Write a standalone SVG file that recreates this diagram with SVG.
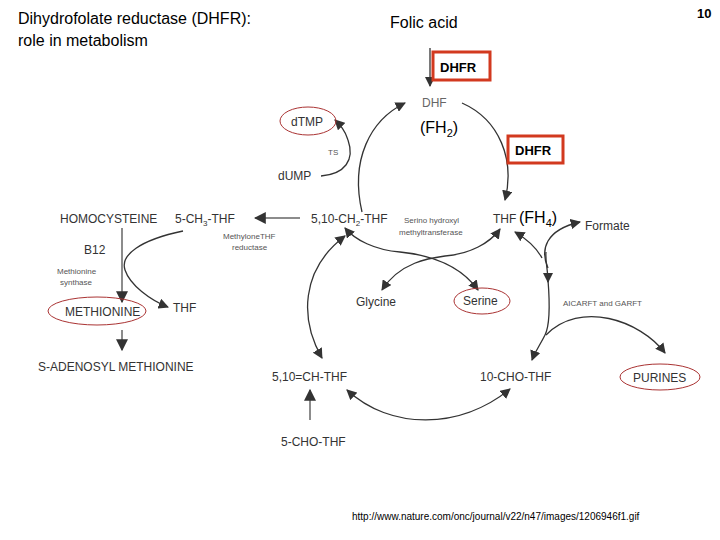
<svg xmlns="http://www.w3.org/2000/svg" width="720" height="540" viewBox="0 0 720 540">
<style>
text{font-family:"Liberation Sans",Arial,sans-serif;fill:#333}
.t{font-size:12px}
.s{font-size:8px;fill:#555}
.b{font-size:16px;fill:#000}
.c{fill:none;stroke:#333;stroke-width:1.3}
.g{fill:none;stroke:#666;stroke-width:1.5}
.ov{fill:none;stroke:#a33;stroke-width:1}
.box{fill:#fff;stroke:#d2391f;stroke-width:3}
</style>
<defs><marker id="a" viewBox="0 0 10 10" refX="9" refY="5" markerWidth="8" markerHeight="8" orient="auto-start-reverse"><path d="M0,0L10,5L0,10z" fill="#333"/></marker></defs>
<rect width="720" height="540" fill="#fff"/>
<text x="18" y="24" class="b">Dihydrofolate reductase (DHFR):</text>
<text x="18" y="46" class="b">role in metabolism</text>
<text x="390" y="28" class="b">Folic acid</text>
<text x="697" y="18" style="font-size:13px;font-weight:bold;fill:#000">10</text>
<g id="connectors">
<path class="c" d="M430,48V86" marker-end="url(#a)"/>
<path class="c" d="M362,212C350,160 370,120 405,103" marker-end="url(#a)"/>
<path class="c" d="M462,103C500,120 515,160 505,200" marker-end="url(#a)"/>
<path class="c" d="M321,176C345,174 355,160 348,140C345,130 340,125 335,120" marker-end="url(#a)"/>
<path class="g" d="M300,218H255" marker-end="url(#a)"/>
<path class="g" d="M122,228V302" marker-end="url(#a)"/>
<path class="g" d="M122,330V350" marker-end="url(#a)"/>
<path class="c" d="M183,231C140,240 120,255 125,270C130,285 150,300 168,307" marker-end="url(#a)"/>
<path class="c" d="M478,290C460,265 430,255 400,252C375,250 355,240 345,228" marker-start="url(#a)" marker-end="url(#a)"/>
<path class="c" d="M382,290C400,262 430,258 445,256C470,254 490,243 500,229" marker-start="url(#a)" marker-end="url(#a)"/>
<path class="c" d="M345,236C300,270 300,320 322,358" marker-start="url(#a)" marker-end="url(#a)"/>
<path class="g" d="M310,420V390" marker-end="url(#a)"/>
<path class="c" d="M347,390C390,430 460,430 510,389" marker-start="url(#a)" marker-end="url(#a)"/>
<path class="c" d="M542,258C535,245 525,238 515,232" marker-end="url(#a)"/>
<path class="c" d="M548,268C540,250 545,230 580,222" marker-end="url(#a)"/>
<path class="c" d="M546,252C545,260 548,270 548,282" marker-end="url(#a)"/>
<path class="c" d="M548,280C550,305 550,325 545,335C540,345 535,352 532,360" marker-end="url(#a)"/>
<path class="c" d="M546,335C580,300 640,320 665,353" marker-end="url(#a)"/>
</g>
<g id="dhfr1"><rect class="box" x="433" y="52" width="57" height="28"/><text x="440" y="72" style="font-size:13px;font-weight:bold;fill:#000">DHFR</text></g>
<g id="dhfr2"><rect class="box" x="508" y="136" width="55" height="27"/><text x="515" y="155" style="font-size:13px;font-weight:bold;fill:#000">DHFR</text></g>
<g id="dhf"><text x="422" y="107" class="t" style="fill:#666">DHF</text><text x="420" y="133" class="b">(FH<tspan font-size="11" dy="4">2</tspan><tspan dy="-4">)</tspan></text></g>
<g id="dtmp"><ellipse class="ov" cx="308" cy="121" rx="28" ry="14"/><text x="291" y="126" class="t">dTMP</text></g>
<text x="328" y="155" class="s">TS</text>
<g id="dump"><text x="278" y="180" class="t">dUMP</text></g>
<g id="ch2thf"><text x="311" y="223" class="t">5,10-CH<tspan font-size="8" dy="3">2</tspan><tspan dy="-3">-THF</tspan></text></g>
<text x="404" y="223" class="s">Serino hydroxyl</text>
<text x="399" y="235" class="s">methyltransferase</text>
<g id="thf"><text x="493" y="223" class="t">THF</text><text x="519" y="223" class="b">(FH<tspan font-size="11" dy="4">4</tspan><tspan dy="-4">)</tspan></text></g>
<g id="formate"><text x="585" y="230" class="t">Formate</text></g>
<g id="homo"><text x="60" y="223" class="t">HOMOCYSTEINE</text></g>
<g id="ch3thf"><text x="175" y="223" class="t">5-CH<tspan font-size="8" dy="3">3</tspan><tspan dy="-3">-THF</tspan></text></g>
<text x="223" y="239" class="s">MethyloneTHF</text>
<text x="232" y="250" class="s">reductase</text>
<text x="84" y="254" class="t">B12</text>
<text x="57" y="274" class="s">Methionine</text>
<text x="60" y="285" class="s">synthase</text>
<g id="methionine"><ellipse class="ov" cx="97" cy="311" rx="49" ry="14"/><text x="65" y="316" class="t">METHIONINE</text></g>
<g id="thf2"><text x="173" y="312" class="t">THF</text></g>
<g id="sam"><text x="38" y="371" class="t">S-ADENOSYL METHIONINE</text></g>
<g id="glycine"><text x="356" y="306" class="t">Glycine</text></g>
<g id="serine"><ellipse class="ov" cx="482" cy="301" rx="28" ry="13"/><text x="463" y="305" class="t">Serine</text></g>
<text x="563" y="306" class="s">AICARFT and GARFT</text>
<g id="chthf"><text x="272" y="381" class="t">5,10=CH-THF</text></g>
<g id="chothf10"><text x="480" y="381" class="t">10-CHO-THF</text></g>
<g id="purines"><ellipse class="ov" cx="660" cy="377" rx="40" ry="13"/><text x="633" y="382" class="t">PURINES</text></g>
<g id="chothf5"><text x="281" y="446" class="t">5-CHO-THF</text></g>
<text x="352" y="520" style="font-size:10px;fill:#000">http://www.nature.com/onc/journal/v22/n47/images/1206946f1.gif</text>
</svg>
